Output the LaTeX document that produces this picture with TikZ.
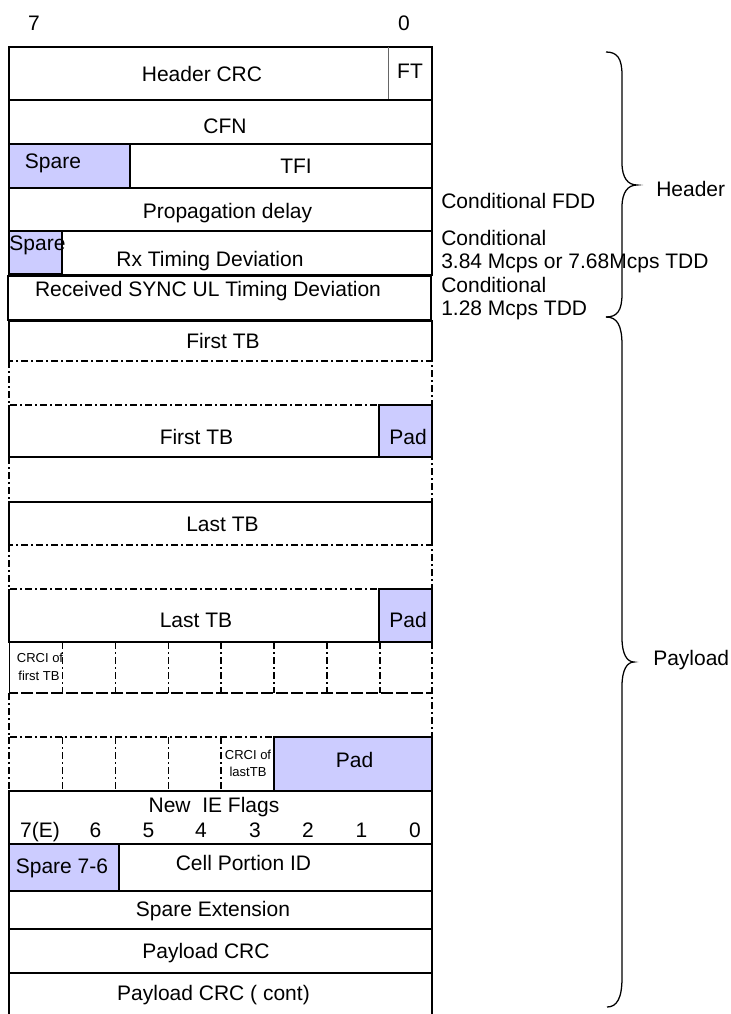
\documentclass[tikz,border=0pt]{standalone}
\usepackage{fontspec}
\setmainfont{Liberation Sans}
\begin{document}
\begin{tikzpicture}[x=0.75pt,y=-0.75pt,
  line/.style={draw=black, line width=0.95pt},
  dd/.style={draw=black, line width=0.95pt, dash pattern=on 5.25pt off 2.25pt on 1.5pt off 2.25pt},
  thin/.style={draw=black!60, line width=0.6pt},
  sparefill/.style={fill=spare, draw=black, line width=0.8pt},
  lbl/.style={font=\fontsize{15.75}{18}\selectfont, inner sep=0pt, anchor=base},
  lblw/.style={font=\fontsize{15.75}{18}\selectfont, inner sep=0pt, anchor=base west},
  sm/.style={font=\fontsize{9.75}{11}\selectfont, inner sep=0pt, anchor=base},
  brace/.style={draw=black, line width=0.95pt}]
\definecolor{spare}{RGB}{204,204,255}
\useasboundingbox (0,0) rectangle (731,1014);
\fill[white] (0,0) rectangle (731,1014);

% --- shaded fields
\path[sparefill] (9,144) rectangle (130,188);
\path[sparefill] (9,231) rectangle (62,274);
\path[sparefill] (379,405) rectangle (432,457);
\path[sparefill] (379,589) rectangle (432,642);
\path[sparefill] (274,737) rectangle (432,791);
\path[sparefill] (9,844) rectangle (119,891);

% --- header rows
\path[line] (9,47) rectangle (432,100);
\path[thin] (388,47) -- (388,100);
\path[line] (9,100) rectangle (432,144);
\path[line] (9,144) rectangle (432,188);
\path[line] (9,188) rectangle (432,231);
\path[line] (9,231) rectangle (432,275);
\path[line] (8,276) rectangle (431,320);

% --- payload rows
\path[line] (9,361) -- (9,321) -- (432,321) -- (432,361);
\path[dd] (9,361) rectangle (432,405);
\path[line] (9,405) -- (9,457) -- (432,457) -- (432,405);
\path[dd] (9,457) rectangle (432,502);
\path[line] (9,545) -- (9,502) -- (432,502) -- (432,545);
\path[dd] (9,545) rectangle (432,589);
\path[line] (9,589) -- (9,642) -- (432,642) -- (432,589);
% CRCI rows
\path[dd] (432,642) -- (432,693) -- (9,693);
\path[line, line width=0.7pt] (9,642) -- (9,693);
\foreach \x in {62.5,115.5,168.5,221,274,327,380}
  \path[dd] (\x,642) -- (\x,693);
\path[dd] (9,693) rectangle (432,737);
\path[dd] (9,737) rectangle (274,791);
\foreach \x in {62.5,115.5,168.5,221}
  \path[dd] (\x,737) -- (\x,791);
\path[line] (274,737) rectangle (432,791);

\path[line] (9,791) rectangle (432,844);
\path[line] (9,844) rectangle (432,891);
\path[line] (9,891) rectangle (432,929);
\path[line] (9,929) rectangle (432,973);
\path[line] (9,1016) -- (9,973) -- (432,973) -- (432,1016);

% --- texts
\node[lbl] (b7) at (34,30) {7};
\node[lbl] (b0) at (404,30) {0};
\node[lbl] (hcrc) at (202,81.7) {Header CRC};
\node[lbl] (ft) at (410,78.3) {FT};
\node[lbl] (cfn) at (225,133.3) {CFN};
\node[lbl] (sp1) at (53,168.3) {Spare};
\node[lbl] (tfi) at (296,173.3) {TFI};
\node[lbl] (pd) at (227.5,218.3) {Propagation delay};
\node[lbl] (sp2) at (37.5,250) {Spare};
\node[lbl] (rx) at (210,266.7) {Rx Timing Deviation};
\node[lbl] (sync) at (208,296) {Received SYNC UL Timing Deviation};
\node[lbl] (ftb1) at (223,348.3) {First TB};
\node[lbl] (ftb2) at (196.5,444) {First TB};
\node[lbl] (pad1) at (408,444) {Pad};
\node[lbl] (ltb1) at (222.5,531.7) {Last TB};
\node[lbl] (ltb2) at (196,627.7) {Last TB};
\node[lbl] (pad2) at (408,627.7) {Pad};
\node[sm] (c1a) at (40,662.3) {CRCI of};
\node[sm] (c1b) at (39,680.7) {first TB};
\node[sm] (c2a) at (248,759.3) {CRCI of};
\node[sm] (c2b) at (248,776.7) {lastTB};
\node[lbl] (pad3) at (354.5,767.3) {Pad};
\node[lbl] (nie) at (214,812.3) {New\ \ IE Flags};
\node[lbl] (f7) at (40,837.3) {7(E)};
\node[lbl] (f6) at (95.5,837.3) {6};
\node[lbl] (f5) at (148.5,837.3) {5};
\node[lbl] (f4) at (201,837.3) {4};
\node[lbl] (f3) at (255,837.3) {3};
\node[lbl] (f2) at (308,837.3) {2};
\node[lbl] (f1) at (361.5,837.3) {1};
\node[lbl] (f0) at (415,837.3) {0};
\node[lbl] (sp76) at (62,873.3) {Spare 7-6};
\node[lbl] (cpid) at (243.5,870.7) {Cell Portion ID};
\node[lbl] (sext) at (213,916) {Spare Extension};
\node[lbl] (pcrc) at (206,958.3) {Payload CRC};
\node[lbl] (pcrc2) at (213.5,1000) {Payload CRC ( cont)};

% --- right-side notes
\node[lblw] (cfdd) at (441,208.3) {Conditional FDD};
\node[lblw] (c3a) at (441,245) {Conditional};
\node[lblw] (c3b) at (441,268.3) {3.84 Mcps or 7.68Mcps TDD};
\node[lblw] (c1a2) at (441,292.7) {Conditional};
\node[lblw] (c1b2) at (441,315) {1.28 Mcps TDD};

% --- braces
\path[brace] (606,52) .. controls (617,52) and (622,58) .. (622,75)
  -- (622,163) .. controls (622,178) and (628,185) .. (637,185)
  .. controls (628,185) and (622,192) .. (622,207)
  -- (622,294) .. controls (622,311) and (617,317) .. (606,317);
\path[brace] (606,317) .. controls (617,317) and (622,325) .. (622,345)
  -- (622,638) .. controls (622,654) and (627,662) .. (634,662)
  .. controls (627,662) and (622,670) .. (622,686)
  -- (622,978) .. controls (622,998) and (617,1007) .. (607,1007);
\node[lblw] (hdr) at (656,196.7) {Header};
\node[lblw] (pay) at (653,665) {Payload};
\end{tikzpicture}
\end{document}
